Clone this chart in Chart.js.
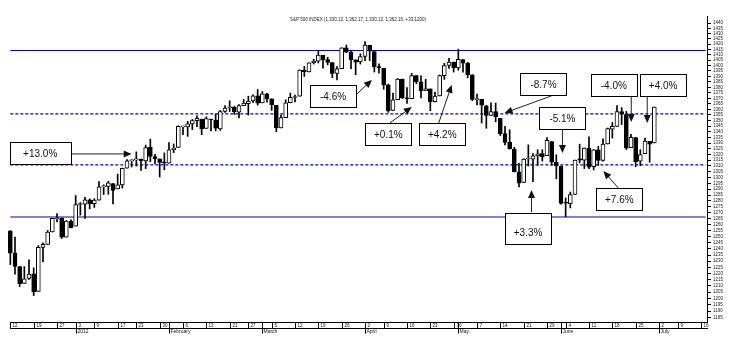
<!DOCTYPE html>
<html>
<head>
<meta charset="utf-8">
<script src="https://cdn.jsdelivr.net/npm/chart.js@4.4.0/dist/chart.umd.min.js"></script>
<style>
  html, body { margin: 0; padding: 0; background: #fff; }
  #wrap { width: 738px; height: 342px; position: relative; }
</style>
</head>
<body>
<div id="wrap"><canvas id="chart"></canvas></div>
<script>
// S&P 500 daily candles, Dec 2011 - Jun 2012 (axis runs on into mid July)
const tradingDays = [
  [2011, 12, [12,13,14,15,16,19,20,21,22,23,27,28,29,30]],
  [2012, 1,  [3,4,5,6,9,10,11,12,13,17,18,19,20,23,24,25,26,27,30,31]],
  [2012, 2,  [1,2,3,6,7,8,9,10,13,14,15,16,17,21,22,23,24,27,28,29]],
  [2012, 3,  [1,2,5,6,7,8,9,12,13,14,15,16,19,20,21,22,23,26,27,28,29,30]],
  [2012, 4,  [2,3,4,5,9,10,11,12,13,16,17,18,19,20,23,24,25,26,27,30]],
  [2012, 5,  [1,2,3,4,7,8,9,10,11,14,15,16,17,18,21,22,23,24,25,29,30,31]],
  [2012, 6,  [1,4,5,6,7,8,11,12,13,14,15,18,19,20,21,22,25,26,27,28,29]],
  [2012, 7,  [2,3,5,6,9,10,11,12,13,16,17]]
];

const open = [
  1255.05,1236.83,1225.73,1212.12,1216.09,1219.74,1205.72,1241.25,1243.72,1254.00,1265.02,1265.38,1249.75,1262.82,
  1258.86,1277.03,1277.30,1280.93,1277.83,1280.77,1292.02,1292.48,1294.82,1290.22,1293.65,1308.07,1314.49,1315.29,1315.96,1314.40,1326.28,1318.25,1316.16,1313.53,
  1312.45,1324.24,1326.21,1344.32,1344.33,1347.04,1349.97,1351.21,1343.06,1351.30,1350.52,1342.61,1358.06,1361.22,1362.11,1357.53,1363.46,1365.20,1367.56,1372.20,
  1365.90,1374.09,1369.59,1363.63,1343.39,1352.65,1365.97,1370.78,1371.92,1395.95,1394.17,1402.55,1404.17,1409.59,1405.52,1402.89,1392.78,1397.11,1416.55,1412.52,1405.39,1403.31,
  1408.47,1418.98,1413.09,1398.79,1397.45,1382.18,1358.98,1368.77,1387.61,1370.27,1369.57,1390.78,1385.08,1376.96,1378.53,1366.97,1372.11,1390.64,1400.19,1403.26,
  1397.86,1405.50,1402.32,1391.51,1368.79,1369.16,1363.20,1354.58,1358.11,1351.93,1338.36,1330.78,1324.82,1305.05,1295.73,1316.09,1316.02,1318.72,1320.81,1318.90,1331.25,1313.09,
  1309.87,1278.29,1277.82,1285.61,1316.15,1314.99,1325.72,1309.40,1324.02,1314.88,1329.19,1342.42,1344.83,1358.04,1355.43,1325.92,1334.90,1314.09,1320.71,1331.52,1330.12
];
const high = [
  1255.05,1249.86,1225.73,1225.60,1231.04,1224.57,1242.82,1245.09,1255.22,1265.42,1269.37,1265.85,1263.54,1264.12,
  1284.62,1278.73,1283.05,1281.84,1281.99,1296.46,1293.80,1296.82,1294.82,1303.00,1308.11,1315.49,1315.38,1322.28,1315.96,1328.30,1333.47,1320.06,1316.16,1321.41,
  1330.52,1329.19,1345.34,1344.36,1349.24,1351.00,1354.32,1351.21,1353.35,1351.30,1355.87,1359.02,1363.40,1367.76,1362.70,1364.24,1368.92,1371.94,1373.09,1378.04,
  1376.17,1374.53,1369.59,1363.63,1354.85,1368.72,1374.76,1373.04,1396.13,1399.42,1402.63,1405.88,1414.00,1409.59,1407.75,1402.89,1399.18,1416.58,1419.15,1413.65,1405.39,1410.89,
  1422.38,1419.00,1413.09,1401.60,1397.45,1383.01,1374.71,1388.13,1387.61,1379.66,1392.76,1390.78,1390.46,1387.40,1378.53,1375.57,1391.37,1402.09,1406.64,1403.26,
  1415.32,1405.50,1403.07,1391.51,1373.91,1369.16,1363.73,1365.88,1365.66,1351.93,1344.94,1341.78,1326.36,1312.24,1316.39,1328.49,1320.71,1324.14,1324.20,1334.93,1331.25,1319.74,
  1309.87,1282.55,1287.62,1315.13,1329.05,1325.81,1335.52,1324.31,1327.28,1333.68,1343.32,1348.22,1363.46,1361.57,1358.27,1337.82,1334.90,1324.24,1334.40,1331.52,1362.17
];
const low = [
  1227.25,1219.43,1209.47,1212.12,1215.20,1202.37,1205.72,1229.51,1243.72,1254.00,1262.30,1248.64,1249.75,1257.46,
  1258.86,1268.10,1265.26,1273.34,1274.55,1280.77,1285.41,1285.77,1277.58,1290.22,1290.99,1308.07,1309.17,1309.89,1306.06,1307.65,1313.60,1311.72,1300.49,1306.69,
  1312.45,1321.57,1326.21,1337.52,1335.92,1341.95,1344.63,1337.35,1343.06,1340.83,1340.80,1341.22,1357.24,1358.11,1355.53,1352.28,1363.46,1354.92,1365.97,1363.81,
  1365.90,1366.42,1359.13,1340.03,1343.39,1352.65,1365.97,1366.69,1371.92,1389.97,1394.17,1401.47,1402.43,1397.68,1400.64,1388.73,1386.87,1397.11,1411.95,1397.20,1391.56,1401.42,
  1404.46,1404.62,1394.09,1392.92,1378.24,1357.38,1358.98,1368.77,1369.85,1365.38,1369.57,1383.29,1370.30,1376.96,1358.79,1366.82,1372.11,1387.28,1397.31,1394.00,
  1395.73,1393.92,1388.71,1367.96,1363.94,1347.75,1343.13,1354.58,1348.89,1336.61,1328.41,1324.79,1304.86,1291.98,1295.73,1310.04,1296.53,1310.50,1314.23,1318.90,1310.76,1298.90,
  1277.25,1266.74,1274.16,1285.61,1312.68,1307.77,1307.73,1306.62,1310.51,1314.14,1329.19,1334.46,1344.83,1346.45,1324.41,1325.92,1309.27,1310.30,1320.71,1313.29,1330.12
];
const close = [
  1236.47,1225.73,1211.82,1215.75,1219.66,1205.35,1241.30,1243.72,1254.00,1265.33,1265.43,1249.64,1263.02,1257.60,
  1277.06,1277.30,1281.06,1277.81,1280.70,1292.08,1292.48,1295.50,1289.09,1293.67,1308.04,1314.50,1315.38,1316.00,1314.65,1326.06,1318.43,1316.33,1313.01,1312.41,
  1324.09,1325.54,1344.90,1344.33,1347.05,1349.96,1351.95,1342.64,1351.77,1350.50,1343.23,1358.04,1361.23,1362.21,1357.66,1363.46,1365.74,1367.59,1372.18,1365.68,
  1374.09,1369.63,1364.33,1343.36,1352.63,1365.91,1370.87,1371.09,1395.95,1394.28,1402.60,1404.17,1409.75,1405.52,1402.89,1392.78,1397.11,1416.51,1412.52,1405.54,1403.28,1408.47,
  1419.04,1413.38,1398.96,1398.08,1382.20,1358.59,1368.71,1387.57,1370.26,1369.57,1390.78,1385.14,1376.92,1378.53,1366.94,1371.97,1390.69,1399.98,1403.36,1397.91,
  1405.82,1402.31,1391.57,1369.10,1369.58,1363.72,1354.58,1357.99,1353.39,1338.35,1330.66,1324.80,1304.86,1295.22,1315.99,1316.63,1318.86,1320.68,1317.82,1332.42,1313.32,1310.33,
  1278.04,1278.18,1285.50,1315.13,1314.99,1325.66,1308.93,1324.18,1314.88,1329.10,1342.84,1344.78,1357.98,1355.69,1325.51,1335.02,1313.72,1319.99,1331.85,1329.04,1362.16
];

// support / resistance levels drawn across the chart
const solidLevels = [1414, 1266.5];
const dashedLevels = [1356, 1311];

// right axis: a label every 5 points
const yMin = 1181.5, yMax = 1446.7;
const yTickFirst = 1185, yTickLast = 1440, yStep = 5;
const monthNames = ['2012','February','March','April','May','June','July','August','September','October','November','December'];
const title = 'S&P 500 INDEX (1,330.12, 1,362.17, 1,330.12, 1,362.16, +33.1200)';

// % move call-outs: box centre and arrow tail/tip in (bar index, price)
const notes = [
  { text: '+13.0%', box: [6.4, 1321.3], w: 61, from: [12.9, 1320.5], to: [26.0, 1320.5] },
  { text: '-4.6%',  box: [69.15, 1372.2], from: [74.06, 1373.1], to: [77.48, 1386.8] },
  { text: '+0.1%',  box: [81.0, 1338.1], from: [81.33, 1347.8], to: [86.03, 1362.2] },
  { text: '+4.2%',  box: [92.55, 1338.1], from: [91.8, 1347.8], to: [94.58, 1382.2] },
  { text: '-8.7%',  box: [114.25, 1383.1], from: [115.96, 1372.2], to: [105.91, 1356.8] },
  { text: '-5.1%',  box: [118.31, 1352.3], from: [118.31, 1342.5], to: [118.31, 1321.3] },
  { text: '+3.3%',  box: [110.94, 1257.3], h: 31, dy: 4, from: [111.68, 1270.7], to: [111.68, 1289.3] },
  { text: '+7.6%',  box: [130.5, 1281.7], from: [130.28, 1291.1], to: [127.08, 1305.7] },
  { text: '-4.0%',  box: [129.32, 1381.7], from: [133.06, 1371.3], to: [133.06, 1348.7] },
  { text: '+4.0%',  box: [139.9, 1381.7], from: [136.48, 1371.3], to: [136.48, 1347.8] }
];

(function(){
  const dates = [];
  tradingDays.forEach(([y, m, list]) => list.forEach(d => dates.push(new Date(y, m - 1, d))));
  const pad = n => (n < 10 ? '0' : '') + n;
  const labels = dates.map(d => d.getFullYear() + '-' + pad(d.getMonth() + 1) + '-' + pad(d.getDate()));

  const weekOf = d => { const t = new Date(d); t.setDate(t.getDate() - ((t.getDay() + 6) % 7)); return t.getTime(); };
  const weekStarts = [], monthStarts = [];
  dates.forEach((d, i) => {
    if (i === 0 || weekOf(d) !== weekOf(dates[i - 1])) weekStarts.push(i);
    if (i > 0 && d.getMonth() !== dates[i - 1].getMonth()) monthStarts.push(i);
  });

  const yTicks = [];
  for (let v = yTickFirst; v <= yTickLast; v += yStep) yTicks.push(v);

  const bodies = open.map((o, i) => [Math.min(o, close[i]), Math.max(o, close[i])]);
  const wicks = low.map((l, i) => [l, high[i]]);
  const bodyColors = open.map((o, i) => close[i] >= o ? '#ffffff' : '#000000');

  const levelSet = (v, dashed) => ({
    type: 'line', data: labels.map(() => v), borderColor: '#0000c0',
    borderWidth: 1.1, borderDash: dashed ? [3, 2] : [],
    pointRadius: 0, order: 5
  });

  const axisStrip = {
    id: 'axisStrip',
    afterDraw(chart){
      const ctx = chart.ctx, x = chart.scales.x, area = chart.chartArea;
      const y0 = Math.round(area.bottom) + 0.5, y1 = y0 + 6;
      ctx.save();
      ctx.strokeStyle = '#000'; ctx.lineWidth = 1;
      ctx.beginPath();
      ctx.moveTo(area.left + 2, y0); ctx.lineTo(area.right, y0);
      ctx.moveTo(area.left + 2, y1); ctx.lineTo(area.right, y1);
      ctx.stroke();
      ctx.fillStyle = '#111';
      ctx.font = '4.5px Arial';
      ctx.textBaseline = 'middle';
      weekStarts.forEach(i => {
        const px = Math.round(x.getPixelForValue(i)) + 0.5;
        ctx.beginPath(); ctx.moveTo(px, y0); ctx.lineTo(px, y1); ctx.stroke();
        ctx.fillText(String(dates[i].getDate()), px + 2, y0 + 3.2);
      });
      ctx.font = '5px Arial';
      monthStarts.forEach(i => {
        const px = Math.round(x.getPixelForValue(i)) + 0.5;
        ctx.beginPath(); ctx.moveTo(px, y0); ctx.lineTo(px, y1 + 5); ctx.stroke();
        ctx.fillText(monthNames[dates[i].getMonth()], px + 1, y1 + 3.5);
      });
      // title
      ctx.font = '4.5px Arial';
      ctx.textAlign = 'center';
      ctx.fillStyle = '#222';
      ctx.fillText(title, (area.left + area.right) / 2, 20);
      ctx.restore();
    }
  };

  const callouts = {
    id: 'callouts',
    afterDatasetsDraw(chart){
      const ctx = chart.ctx, x = chart.scales.x, y = chart.scales.y;
      const pt = p => [x.getPixelForValue(p[0]), y.getPixelForValue(p[1])];
      ctx.save();
      notes.forEach(n => {
        // arrow
        const a = pt(n.from), b = pt(n.to);
        const ang = Math.atan2(b[1] - a[1], b[0] - a[0]);
        ctx.strokeStyle = '#222'; ctx.fillStyle = '#111'; ctx.lineWidth = 1;
        ctx.beginPath(); ctx.moveTo(a[0], a[1]);
        ctx.lineTo(b[0] - 6 * Math.cos(ang), b[1] - 6 * Math.sin(ang)); ctx.stroke();
        ctx.beginPath();
        ctx.moveTo(b[0], b[1]);
        ctx.lineTo(b[0] - 8 * Math.cos(ang) + 3.5 * Math.sin(ang), b[1] - 8 * Math.sin(ang) - 3.5 * Math.cos(ang));
        ctx.lineTo(b[0] - 8 * Math.cos(ang) - 3.5 * Math.sin(ang), b[1] - 8 * Math.sin(ang) + 3.5 * Math.cos(ang));
        ctx.closePath(); ctx.fill();
        // box
        const c = pt(n.box), w = n.w || 46, h = n.h || 22;
        const bx = Math.round(c[0] - w / 2) + 0.5, by = Math.round(c[1] - h / 2) + 0.5;
        ctx.fillStyle = '#fff'; ctx.strokeStyle = '#000';
        ctx.fillRect(bx, by, w, h); ctx.strokeRect(bx, by, w, h);
        ctx.fillStyle = '#111';
        ctx.font = '10px Arial';
        ctx.textAlign = 'center'; ctx.textBaseline = 'middle';
        ctx.fillText(n.text, c[0], c[1] + 1 + (n.dy || 0));
      });
      ctx.restore();
    }
  };

  new Chart(document.getElementById('chart'), {
    type: 'bar',
    data: {
      labels,
      datasets: [
        { label: 'body', data: bodies, backgroundColor: bodyColors, borderColor: '#000', borderWidth: 1,
          borderSkipped: false, barThickness: 4, minBarLength: 1, grouped: false, order: 0 },
        { label: 'wick', data: wicks, backgroundColor: '#000', barThickness: 1, grouped: false, order: 1 },
        ...solidLevels.map(v => levelSet(v, false)),
        ...dashedLevels.map(v => levelSet(v, true))
      ]
    },
    options: {
      responsive: true,
      maintainAspectRatio: false,
      animation: false,
      devicePixelRatio: 1,
      layout: { padding: { left: 8, right: 13, top: 16, bottom: 20 } },
      plugins: { legend: { display: false }, tooltip: { enabled: false }, title: { display: false } },
      scales: {
        x: { type: 'category', display: false, offset: true },
        y: {
          type: 'logarithmic', position: 'right', min: yMin, max: yMax,
          afterBuildTicks: s => { s.ticks = yTicks.map(v => ({ value: v })); },
          ticks: { autoSkip: false, padding: 2, color: '#222', font: { size: 4.5, family: 'Arial' },
                   callback: v => String(v) },
          grid: { drawOnChartArea: false, drawTicks: true, tickLength: 3, color: '#000' },
          border: { display: true, color: '#000', width: 1 }
        }
      }
    },
    plugins: [axisStrip, callouts]
  });
})();
</script>
</body>
</html>
